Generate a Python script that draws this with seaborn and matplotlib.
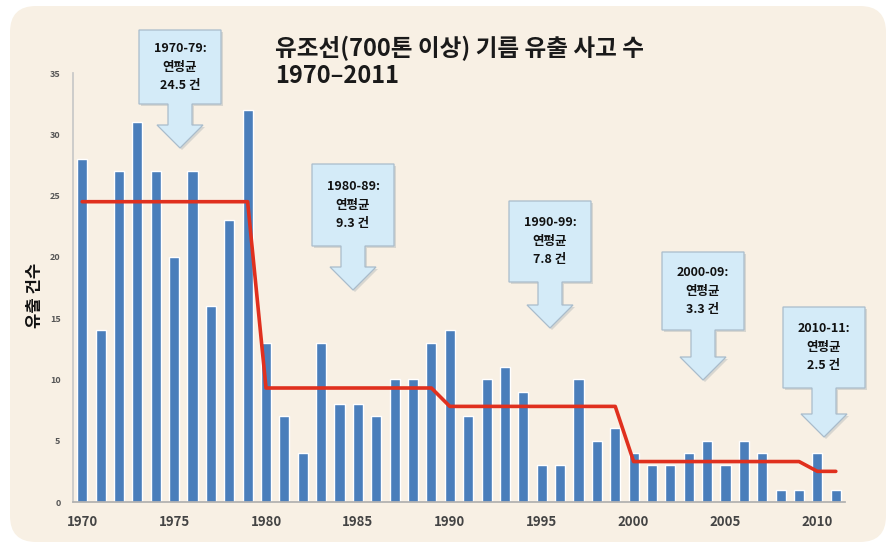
import matplotlib
matplotlib.use("Agg")
import matplotlib.pyplot as plt
import seaborn as sns
import pandas as pd
from matplotlib.patches import FancyBboxPatch, Polygon
from matplotlib.transforms import IdentityTransform

# yearly number of tanker spills (700t+)
years = list(range(1970, 2012))
spills = [28, 14, 27, 31, 27, 20, 27, 16, 23, 32,
          13, 7, 4, 13, 8, 8, 7, 10, 10, 13,
          14, 7, 10, 11, 9, 3, 3, 10, 5, 6,
          4, 3, 3, 4, 5, 3, 5, 4, 1, 1,
          4, 1]

# period averages and how many years each covers
period_labels = ["1970-79:", "1980-89:", "1990-99:", "2000-09:", "2010-11:"]
period_avgs = [24.5, 9.3, 7.8, 3.3, 2.5]
period_years = [10, 10, 10, 10, 2]

avg_line = []
for a, n in zip(period_avgs, period_years):
    avg_line += [a] * n

df = pd.DataFrame({"year": years, "spills": spills, "avg": avg_line})

sns.set_theme(style="white")
plt.rcParams["font.family"] = ["Noto Sans CJK KR", "DejaVu Sans"]

W, H = 888, 548
fig = plt.figure(figsize=(W / 100, H / 100), dpi=100)
fig.patch.set_facecolor("white")

# cream rounded panel behind everything (pixel coords)
panel = FancyBboxPatch((10, 6), 876, 536, boxstyle="round,pad=0,rounding_size=26",
                       transform=IdentityTransform(), facecolor="#f8f0e4",
                       edgecolor="none", zorder=-5)
fig.patches.append(panel)

ax = fig.add_axes([73 / W, (H - 502) / H, 772 / W, 429 / H])
ax.set_facecolor("none")
ax.set_zorder(1)

sns.barplot(data=df, x="year", y="spills", native_scale=True, width=0.55,
            color="#4a7ebb", saturation=1, ax=ax, zorder=2)
sns.lineplot(data=df, x="year", y="avg", color="#e0301e", linewidth=2.6,
             ax=ax, zorder=3)

ax.set_xlim(1969.5, 2011.5)
ax.set_ylim(0, 35)
ax.set_xticks(range(1970, 2011, 5))
ax.set_yticks(range(0, 36, 5))
ax.tick_params(axis="x", labelsize=9.5, colors="#444444", length=0, pad=9)
ax.tick_params(axis="y", labelsize=6.5, colors="#555555", length=0, pad=9)
for lab in ax.get_xticklabels() + ax.get_yticklabels():
    lab.set_fontweight("bold")
ax.set_xlabel("")
ax.set_ylabel("")
for s in ["top", "right"]:
    ax.spines[s].set_visible(False)
ax.spines["left"].set_color("#c8c8c8")
ax.spines["bottom"].set_color("#b0b0b0")

fig.text(35 / W, 1 - 295 / H, "유출 건수", rotation=90, ha="center", va="center",
         fontsize=12, fontweight="bold", color="#111111")

fig.text(275 / W, 1 - 36 / H, "유조선(700톤 이상) 기름 유출 사고 수\n1970–2011",
         ha="left", va="top", fontsize=17, fontweight="bold", color="#1a1a1a",
         linespacing=1.15)

# callout boxes: (left, top, right, bottom, arrow tip y) in image pixels
callouts = [
    (139, 30, 221, 104, 148),
    (312, 164, 394, 246, 290),
    (509, 201, 591, 282, 328),
    (662, 252, 744, 330, 380),
    (783, 307, 865, 388, 437),
]


def callout(x0, y0, x1, y1, tip, text):
    cx = (x0 + x1) / 2
    sw, hw = 12, 23
    head = tip - 23
    pts = [(x0, y0), (x1, y0), (x1, y1), (cx + sw, y1), (cx + sw, head),
           (cx + hw, head), (cx, tip), (cx - hw, head), (cx - sw, head),
           (cx - sw, y1), (x0, y1)]
    shadow = Polygon([(x + 2, H - y - 2) for x, y in pts], closed=True,
                     transform=IdentityTransform(), facecolor="#9aa6ad",
                     alpha=0.35, edgecolor="none", zorder=4)
    poly = Polygon([(x, H - y) for x, y in pts], closed=True,
                   transform=IdentityTransform(), facecolor="#d4ebf8",
                   edgecolor="#a9bccb", linewidth=0.9, zorder=5)
    fig.patches.append(shadow)
    fig.patches.append(poly)
    fig.text(cx / W, 1 - (y0 + y1) / 2 / H, text, ha="center", va="center",
             fontsize=9, fontweight="bold", color="#111111", linespacing=1.55,
             zorder=6)


for (x0, y0, x1, y1, tip), lab, a in zip(callouts, period_labels, period_avgs):
    callout(x0, y0, x1, y1, tip, f"{lab}\n연평균\n{a} 건")

fig.savefig("out.png", dpi=100, facecolor="white")
